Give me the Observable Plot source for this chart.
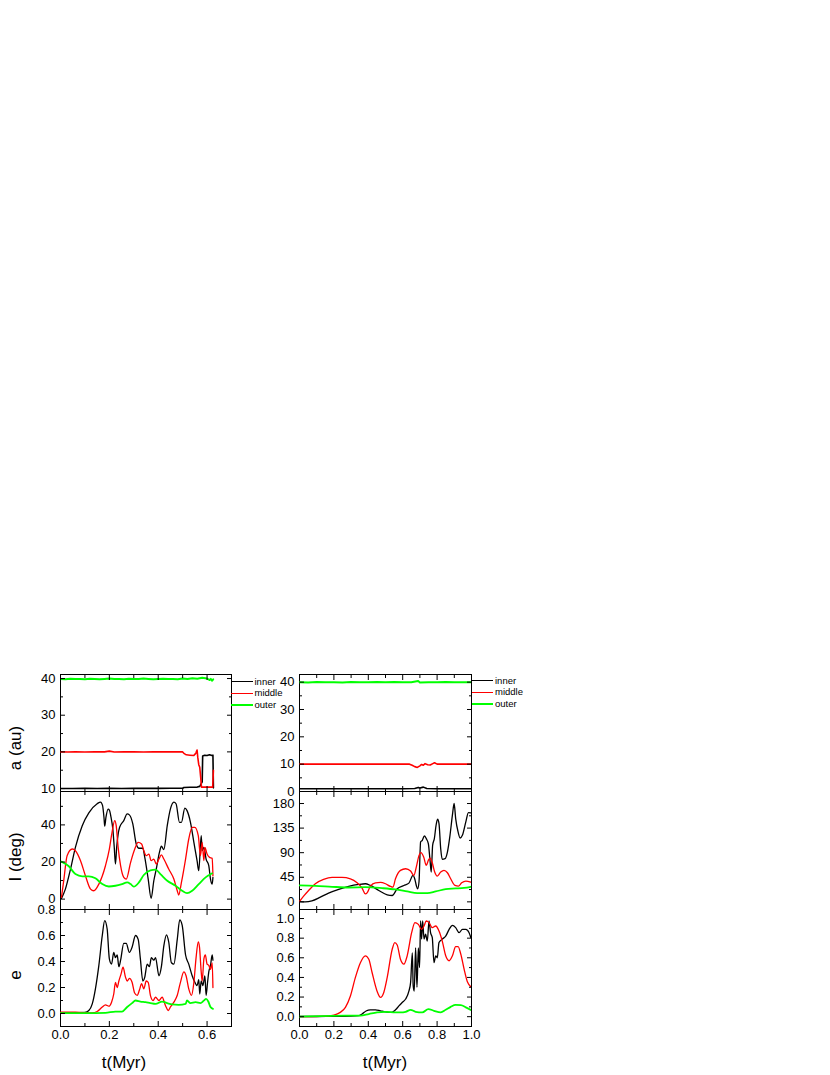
<!DOCTYPE html>
<html><head><meta charset="utf-8">
<script src="https://cdn.jsdelivr.net/npm/d3@7"></script>
<script src="https://cdn.jsdelivr.net/npm/@observablehq/plot@0.6"></script>
<style>
body{margin:0;background:#fff;font-family:"Liberation Sans",Arial,sans-serif;}
#root{position:relative;width:830px;height:1075px;overflow:hidden;background:#fff;}
.lab{position:absolute;font-size:17px;color:#000;white-space:nowrap;line-height:1;}
.rot{transform:translate(-50%,-50%) rotate(-90deg);}
.ctr{transform:translate(-50%,-50%);}
.legt{position:absolute;font-size:9.5px;line-height:1;white-space:nowrap;transform:translateY(-50%);}
.legl{position:absolute;height:0;border-top-style:solid;}
</style></head><body><div id="root"></div>
<script>
// ---------- DATA ----------
const seriesNames = ["inner", "middle", "outer"];
const seriesColors = ["#000000", "#ff0000", "#00ff00"];
const xTitle = "t(Myr)";
const yTitles = ["a (au)", "I (deg)", "e"];

// left column x ticks
const leftXMajor = [0, 0.2, 0.4, 0.6];
const leftXMinor = [0.1, 0.3, 0.5, 0.7];
const rightXMajor = [0, 0.2, 0.4, 0.6, 0.8, 1.0];
const rightXMinor = [0.1, 0.3, 0.5, 0.7, 0.9];

const leftAMajor = [10, 20, 30, 40], leftAMinor = [15, 25, 35];
const leftIMajor = [0, 20, 40], leftIMinor = [10, 30, 50];
const leftEMajor = [0, 0.2, 0.4, 0.6, 0.8], leftEMinor = [-0.1, 0.1, 0.3, 0.5, 0.7];
const rightAMajor = [0, 10, 20, 30, 40], rightAMinor = [5, 15, 25, 35];
const rightIMajor = [0, 45, 90, 135, 180], rightIMinor = [22.5, 67.5, 112.5, 157.5];
const rightEMajor = [0, 0.2, 0.4, 0.6, 0.8, 1.0], rightEMinor = [-0.1, 0.1, 0.3, 0.5, 0.7, 0.9];

// ---- left: a ----
const leftA_inner = [[0,10],[0.05,10],[0.1,10.05],[0.15,10],[0.2,10.05],[0.25,10],[0.3,10.05],[0.35,10.1],[0.4,10.05],[0.45,10.1],[0.5,10.1],[0.505,10.3],[0.53,10.35],[0.56,10.4],[0.57,10.6],[0.575,11.2],[0.58,11.8],[0.582,18.9],[0.59,19.1],[0.6,19.0],[0.61,19.2],[0.62,19.0],[0.624,19.1],[0.626,10.2]];
const leftA_middle = [[0,20],[0.03,19.95],[0.06,20.05],[0.1,19.95],[0.14,20.05],[0.18,20],[0.2,20.2],[0.22,19.95],[0.26,20.05],[0.3,20],[0.34,19.95],[0.38,20.05],[0.42,20],[0.46,20.05],[0.5,20],[0.505,19.6],[0.515,19.2],[0.53,19.1],[0.545,19.0],[0.55,19.3],[0.555,19.8],[0.559,20.5],[0.562,18.5],[0.566,16.5],[0.57,15.8],[0.574,13],[0.577,10.4],[0.6,10.4],[0.623,10.4],[0.626,15]];
const leftA_outer = [[0,39.9],[0.02,39.8],[0.04,39.95],[0.06,39.85],[0.08,39.9],[0.1,39.8],[0.12,39.95],[0.14,39.9],[0.16,39.8],[0.18,39.9],[0.2,40.0],[0.22,39.85],[0.24,39.9],[0.26,39.8],[0.28,39.95],[0.3,39.9],[0.32,39.85],[0.34,40.0],[0.36,39.9],[0.38,39.8],[0.4,39.9],[0.42,39.95],[0.44,39.85],[0.46,39.9],[0.48,39.8],[0.5,40.0],[0.52,39.9],[0.54,40.1],[0.56,39.95],[0.58,40.2],[0.6,40.0],[0.61,39.6],[0.615,39.9],[0.62,39.4],[0.625,39.8]];

// ---- left: I ----
const leftI_inner = [[0.004,0.4],[0.02,5.4],[0.041,16.2],[0.061,27.9],[0.089,39.6],[0.116,46.5],[0.15,51.4],[0.164,52.3],[0.172,50.5],[0.178,44],[0.181,39.3],[0.186,44],[0.195,48.5],[0.2,48],[0.207,44],[0.214,38],[0.22,28],[0.225,18.9],[0.23,28],[0.236,35],[0.242,38.7],[0.259,42.3],[0.273,45.9],[0.282,45.4],[0.296,40.5],[0.31,29.7],[0.321,27.4],[0.337,27.4],[0.345,22.5],[0.359,10.8],[0.371,0.4],[0.382,9.9],[0.392,16.2],[0.405,25.2],[0.413,28.5],[0.423,26.7],[0.437,39.6],[0.45,48.6],[0.464,52.3],[0.473,51.4],[0.487,41.4],[0.495,41.4],[0.509,49],[0.518,47.7],[0.532,41.4],[0.546,30.6],[0.559,20.7],[0.566,15.3],[0.576,34.2],[0.58,26.1],[0.587,27.9],[0.596,21.6],[0.607,18],[0.614,10.8],[0.621,8.1],[0.624,11.7]];
const leftI_middle = [[0.004,0.9],[0.014,10.8],[0.027,23.4],[0.048,27],[0.061,26.1],[0.082,20.7],[0.102,12.6],[0.123,5.4],[0.136,4.5],[0.157,8.1],[0.184,18],[0.2,27],[0.211,36],[0.222,42.3],[0.228,39.6],[0.236,27.9],[0.246,18],[0.259,11.7],[0.269,10.8],[0.287,19.8],[0.304,27],[0.318,30.6],[0.332,29.7],[0.341,26.1],[0.351,23.4],[0.362,24.3],[0.371,20.7],[0.382,21.6],[0.392,18.9],[0.403,21.6],[0.413,23.8],[0.423,21.6],[0.443,16.2],[0.464,10.8],[0.478,4.5],[0.484,2.2],[0.495,9],[0.512,21.6],[0.525,32.4],[0.539,38.7],[0.55,38.7],[0.564,34.2],[0.573,23.4],[0.58,30.6],[0.587,20.7],[0.591,27.9],[0.6,24.3],[0.61,22.5],[0.621,22],[0.624,12.6]];
const leftI_outer = [[0.004,20.2],[0.034,17.7],[0.061,13.5],[0.089,12.3],[0.116,12.3],[0.143,11.2],[0.171,8.1],[0.198,6.8],[0.225,7.2],[0.252,8.1],[0.273,9],[0.287,8.1],[0.3,6.7],[0.321,9],[0.341,13],[0.368,15.5],[0.389,15.9],[0.409,13.5],[0.437,9.9],[0.471,7.2],[0.498,4.5],[0.518,3.2],[0.539,4.5],[0.566,8.1],[0.594,11.7],[0.621,13.9]];

// ---- left: e ----
const leftE_inner = [[0,0.005],[0.05,0.005],[0.1,0.008],[0.116,0.023],[0.13,0.074],[0.143,0.19],[0.157,0.37],[0.171,0.6],[0.181,0.715],[0.191,0.65],[0.2,0.42],[0.209,0.38],[0.218,0.47],[0.225,0.43],[0.232,0.45],[0.239,0.36],[0.246,0.41],[0.259,0.54],[0.269,0.54],[0.282,0.47],[0.293,0.51],[0.307,0.6],[0.318,0.57],[0.327,0.42],[0.337,0.25],[0.345,0.28],[0.355,0.38],[0.364,0.36],[0.372,0.43],[0.382,0.41],[0.389,0.43],[0.403,0.29],[0.413,0.36],[0.423,0.52],[0.434,0.605],[0.443,0.55],[0.454,0.39],[0.464,0.38],[0.478,0.57],[0.488,0.72],[0.498,0.68],[0.512,0.45],[0.525,0.38],[0.539,0.29],[0.55,0.24],[0.559,0.215],[0.566,0.26],[0.57,0.15],[0.576,0.25],[0.583,0.215],[0.591,0.29],[0.596,0.14],[0.602,0.24],[0.607,0.32],[0.614,0.37],[0.621,0.45],[0.624,0.41]];
const leftE_middle = [[0,0.01],[0.061,0.01],[0.13,0.005],[0.15,0.015],[0.171,0.05],[0.184,0.067],[0.198,0.056],[0.209,0.087],[0.218,0.15],[0.225,0.24],[0.232,0.2],[0.239,0.25],[0.248,0.305],[0.256,0.356],[0.266,0.28],[0.273,0.25],[0.282,0.27],[0.293,0.24],[0.303,0.16],[0.314,0.14],[0.323,0.18],[0.332,0.23],[0.341,0.19],[0.351,0.25],[0.359,0.24],[0.368,0.14],[0.379,0.1],[0.389,0.125],[0.403,0.1],[0.416,0.125],[0.43,0.06],[0.441,0.023],[0.45,0.05],[0.464,0.087],[0.478,0.14],[0.491,0.24],[0.505,0.32],[0.514,0.29],[0.525,0.19],[0.536,0.14],[0.546,0.24],[0.555,0.43],[0.564,0.55],[0.569,0.51],[0.576,0.32],[0.58,0.25],[0.587,0.42],[0.593,0.45],[0.6,0.38],[0.607,0.37],[0.614,0.34],[0.621,0.39],[0.624,0.2]];
const leftE_outer = [[0,0.003],[0.1,0.003],[0.184,0.005],[0.225,0.015],[0.252,0.015],[0.273,0.05],[0.293,0.08],[0.307,0.1],[0.327,0.092],[0.348,0.087],[0.368,0.08],[0.389,0.074],[0.416,0.092],[0.437,0.08],[0.457,0.07],[0.484,0.067],[0.512,0.074],[0.518,0.1],[0.532,0.08],[0.553,0.087],[0.573,0.08],[0.587,0.1],[0.596,0.113],[0.605,0.092],[0.614,0.05],[0.624,0.036]];

// ---- right: a ----
const rightA_inner = [[0,1.0],[0.2,1.0],[0.4,1.0],[0.6,1.0],[0.67,1.1],[0.69,1.5],[0.7,1.3],[0.72,1.6],[0.74,1.1],[0.8,1.0],[1,1.0]];
const rightA_middle = [[0,10],[0.2,10],[0.4,10],[0.6,10],[0.64,10],[0.655,9.6],[0.67,9.1],[0.685,8.8],[0.7,9.4],[0.71,9.9],[0.72,9.6],[0.73,10.2],[0.745,9.8],[0.76,9.7],[0.775,10.2],[0.785,10.5],[0.8,10],[1,10]];
const rightA_outer = [[0,40],[0.05,39.9],[0.1,40.05],[0.15,39.95],[0.2,40],[0.25,39.9],[0.3,40.05],[0.35,40],[0.4,39.95],[0.45,40.05],[0.5,40],[0.55,40.1],[0.6,39.95],[0.65,40],[0.69,40.4],[0.7,39.9],[0.75,40],[0.8,39.95],[0.85,40.05],[0.9,39.95],[0.95,40],[1,40]];

// ---- right: I ----
const rightI_inner = [[0,0.6],[0.033,0],[0.072,1.8],[0.121,8.6],[0.169,15.9],[0.228,22.7],[0.286,28.2],[0.344,31.8],[0.383,33.1],[0.412,30],[0.461,20.8],[0.51,12.9],[0.539,11.6],[0.568,23.9],[0.607,30],[0.636,34.3],[0.66,48.4],[0.671,41],[0.679,30],[0.687,23.9],[0.695,37.3],[0.704,109.6],[0.714,112.7],[0.726,120.6],[0.737,115.7],[0.749,106.5],[0.759,75.9],[0.766,54.5],[0.774,103.5],[0.784,115.7],[0.794,140.2],[0.803,151.2],[0.811,143.3],[0.821,97.3],[0.83,77.8],[0.846,79],[0.86,91.2],[0.875,121.8],[0.889,158.6],[0.899,180],[0.908,152.4],[0.922,128],[0.934,116.9],[0.947,121.8],[0.967,146.3],[0.982,163.5],[0.996,162.9]];
const rightI_middle = [[0,0.6],[0.024,10.4],[0.053,20.8],[0.092,33.1],[0.14,41],[0.189,44.7],[0.247,44.7],[0.296,42.2],[0.335,34.9],[0.364,25.1],[0.383,14.7],[0.393,16.5],[0.412,28.8],[0.442,34.9],[0.471,35.5],[0.5,33.1],[0.529,28.2],[0.543,26.9],[0.558,42.2],[0.587,57.6],[0.617,60.6],[0.646,56.3],[0.665,48.4],[0.679,63.7],[0.695,85.1],[0.706,90],[0.722,82],[0.737,66.7],[0.749,75.9],[0.759,80.2],[0.772,71.6],[0.786,54.5],[0.801,47.1],[0.821,54.5],[0.84,57.6],[0.86,53.3],[0.879,42.2],[0.904,30],[0.924,28.8],[0.943,34.9],[0.967,38],[0.996,36.1]];
const rightI_outer = [[0,30],[0.092,29.4],[0.189,27.6],[0.286,26.3],[0.383,26.9],[0.48,25.1],[0.558,22.7],[0.626,19],[0.685,15.9],[0.743,15.9],[0.792,19],[0.85,23.3],[0.908,24.5],[0.957,25.7],[0.996,27.6]];

// ---- right: e ----
const rightE_inner = [[0,0.002],[0.1,0.002],[0.2,0.003],[0.3,0.005],[0.344,0.01],[0.364,0.027],[0.387,0.058],[0.412,0.07],[0.442,0.07],[0.471,0.06],[0.5,0.05],[0.535,0.044],[0.558,0.07],[0.578,0.11],[0.597,0.145],[0.617,0.18],[0.636,0.26],[0.646,0.35],[0.656,0.65],[0.661,0.315],[0.667,0.26],[0.675,0.7],[0.683,0.3],[0.691,0.7],[0.698,0.5],[0.704,0.975],[0.71,0.79],[0.716,0.975],[0.724,0.79],[0.733,0.84],[0.743,0.77],[0.753,0.975],[0.762,0.856],[0.772,0.805],[0.782,0.55],[0.792,0.62],[0.801,0.6],[0.811,0.755],[0.83,0.79],[0.85,0.82],[0.87,0.89],[0.889,0.93],[0.908,0.907],[0.928,0.856],[0.947,0.89],[0.967,0.89],[0.986,0.856],[0.996,0.805]];
const rightE_middle = [[0,0],[0.13,0.003],[0.2,0.017],[0.237,0.044],[0.267,0.095],[0.296,0.21],[0.325,0.4],[0.354,0.55],[0.383,0.62],[0.403,0.585],[0.422,0.45],[0.451,0.26],[0.471,0.196],[0.49,0.247],[0.51,0.4],[0.539,0.687],[0.554,0.755],[0.568,0.73],[0.587,0.585],[0.607,0.535],[0.626,0.62],[0.652,0.856],[0.671,0.958],[0.691,0.94],[0.71,0.89],[0.724,0.924],[0.737,0.975],[0.753,0.958],[0.772,0.907],[0.792,0.924],[0.811,0.873],[0.83,0.77],[0.85,0.62],[0.87,0.57],[0.889,0.62],[0.908,0.714],[0.922,0.714],[0.938,0.636],[0.957,0.484],[0.976,0.355],[0.996,0.305]];
const rightE_outer = [[0,0],[0.267,0.01],[0.354,0.01],[0.403,0.027],[0.451,0.044],[0.5,0.05],[0.558,0.044],[0.587,0.044],[0.617,0.05],[0.646,0.07],[0.675,0.05],[0.714,0.044],[0.749,0.078],[0.782,0.06],[0.821,0.044],[0.85,0.07],[0.879,0.1],[0.908,0.12],[0.938,0.118],[0.967,0.095],[0.996,0.068]];

// ---------- DRAW ----------
const root = document.getElementById("root");
const fmt1 = d3.format(".1f");
const fmt0 = d3.format("d");

function panel(o) {
  const marks = [
    Plot.frame({stroke: "#000", strokeWidth: 1}),
    ...o.series.map((s, i) => Plot.line(s, {x: d => d[0], y: d => d[1], stroke: seriesColors[i], strokeWidth: i === 2 ? o.gw : o.lw, curve: o.curve, clip: true})),
    Plot.axisY(o.yMaj, {anchor: "left", tickSize: -5, tickPadding: 10, tickFormat: o.yFmt, label: null, fontSize: 13, color: "#000"}),
    Plot.axisY(o.yMin, {anchor: "left", tickSize: -3, fill: "none", stroke: "#000", label: null}),
    Plot.axisY(o.yMaj, {anchor: "right", tickSize: -5, fill: "none", stroke: "#000", label: null}),
    Plot.axisY(o.yMin, {anchor: "right", tickSize: -3, fill: "none", stroke: "#000", label: null}),
    Plot.axisX(o.xMaj, {anchor: "top", tickSize: -5, fill: "none", stroke: "#000", label: null}),
    Plot.axisX(o.xMin, {anchor: "top", tickSize: -3, fill: "none", stroke: "#000", label: null}),
    Plot.axisX(o.xMaj, {anchor: "bottom", tickSize: -5, tickPadding: 8, tickFormat: fmt1, fill: o.xLabels ? "#000" : "none", stroke: "#000", label: null, fontSize: 13}),
    Plot.axisX(o.xMin, {anchor: "bottom", tickSize: -3, fill: "none", stroke: "#000", label: null})
  ];
  const svg = Plot.plot({
    width: o.width, height: o.height,
    marginLeft: o.ml, marginRight: o.mr, marginTop: o.mt, marginBottom: o.mb,
    x: {domain: o.xd}, y: {domain: o.yd},
    style: {fontFamily: '"Liberation Sans", Arial, sans-serif', fontSize: "13px", background: "transparent", overflow: "visible", color: "#000"},
    marks
  });
  svg.style.position = "absolute";
  svg.style.left = o.left + "px";
  svg.style.top = o.top + "px";
  root.appendChild(svg);
}

const L = {left: 0, width: 241, ml: 60, mr: 10, xd: [0, 0.7], xMaj: leftXMajor, xMin: leftXMinor};
const R = {left: 240, width: 241, ml: 59, mr: 10, xd: [0, 1], xMaj: rightXMajor, xMin: rightXMinor};
const rowA = {top: 664, height: 132, mt: 10, mb: 5, xLabels: false, curve: "linear", lw: 1.6, gw: 2};
const rowI = {top: 781, height: 133, mt: 10, mb: 5, xLabels: false, curve: "monotone-x", lw: 1.3, gw: 1.8};
const rowE = {top: 899, height: 157, mt: 10, mb: 30, xLabels: true, curve: "monotone-x", lw: 1.3, gw: 1.8};

panel({...L, ...rowA, yd: [9.2, 41.1], yMaj: leftAMajor, yMin: leftAMinor, yFmt: fmt0, series: [leftA_inner, leftA_middle, leftA_outer]});
panel({...L, ...rowI, yd: [-5.6, 58], yMaj: leftIMajor, yMin: leftIMinor, yFmt: fmt0, series: [leftI_inner, leftI_middle, leftI_outer]});
panel({...L, ...rowE, yd: [-0.1, 0.8], yMaj: leftEMajor, yMin: leftEMinor, yFmt: fmt1, series: [leftE_inner, leftE_middle, leftE_outer]});
panel({...R, ...rowA, yd: [0, 42.8], yMaj: rightAMajor, yMin: rightAMinor, yFmt: fmt0, series: [rightA_inner, rightA_middle, rightA_outer]});
panel({...R, ...rowI, yd: [-14, 202], yMaj: rightIMajor, yMin: rightIMinor, yFmt: fmt0, series: [rightI_inner, rightI_middle, rightI_outer]});
panel({...R, ...rowE, yd: [-0.1, 1.092], yMaj: rightEMajor, yMin: rightEMinor, yFmt: fmt1, series: [rightE_inner, rightE_middle, rightE_outer]});

// axis titles
function label(text, x, y, cls) {
  const d = document.createElement("div");
  d.className = "lab " + cls;
  d.textContent = text;
  d.style.left = x + "px"; d.style.top = y + "px";
  root.appendChild(d);
}
label(yTitles[0], 15, 748, "rot");
label(yTitles[1], 15, 857, "rot");
label(yTitles[2], 15, 975, "rot");
label(xTitle, 124, 1062, "ctr");
label(xTitle, 385, 1062, "ctr");

// legends
function legend(x0, x1, ys) {
  seriesNames.forEach((name, i) => {
    const l = document.createElement("div");
    l.className = "legl";
    l.style.left = x0 + "px"; l.style.width = (x1 - x0) + "px";
    l.style.top = (ys[i] - 0.75) + "px";
    l.style.borderTopWidth = (i === 2 ? 2 : 1.5) + "px";
    l.style.borderTopColor = seriesColors[i];
    root.appendChild(l);
    const t = document.createElement("div");
    t.className = "legt";
    t.textContent = name;
    t.style.left = (x1 + 2) + "px"; t.style.top = ys[i] + "px";
    root.appendChild(t);
  });
}
legend(231, 252.5, [681.7, 693.3, 705]);
legend(471.5, 493, [681, 692.3, 704]);
</script></body></html>
